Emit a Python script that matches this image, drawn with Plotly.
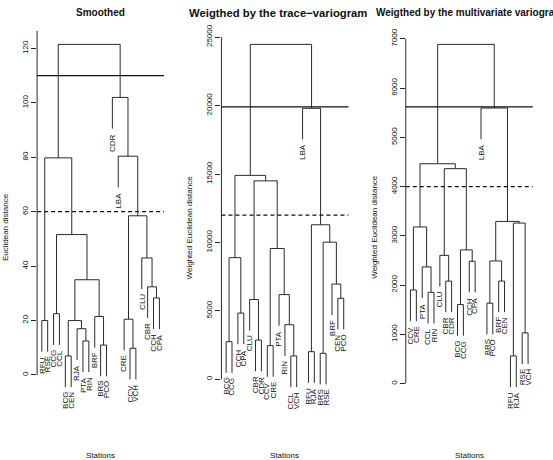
import plotly.graph_objects as go

W, H = 553, 460
FONT = "Liberation Sans, Arial, sans-serif"

titles = ["Smoothed",
          "Weigthed by the trace\u2212variogram",
          "Weigthed by the multivariate variogram"]
ytitles = ["Euclidean distance", "Weighted Euclidean distance", "Weighted Euclidean distance"]
xtitle = "Stations"

# Dendrogram merges: (left, right, height); integers refer to earlier merges
smoothed_merges = [
    ("BCG", "CEN", 7.0), ("CCV", "VCH", 9.8), ("BRS", "PCO", 11.0),
    ("PTA", "RIN", 12.5), ("RJA", 3, 17.0), ("RFU", "RSE", 20.0),
    (0, 4, 20.0), ("CRE", 1, 20.5), ("BRF", 2, 21.5), ("CCG", "CCL", 22.5),
    ("CCH", "CPA", 28.3), ("CBR", 10, 32.4), (6, 8, 35.0), ("CLU", 11, 43.0),
    (9, 12, 51.6), (7, 13, 58.5), (5, 14, 79.8), ("LBA", 15, 80.4),
    ("CDR", 17, 102.0), (16, 18, 121.5),
]
trace_merges = [
    ("CCL", "VCH", 1710), ("BRS", "RSE", 1900), ("RFU", "RJA", 2020),
    ("CCV", "CRE", 2460), ("BCG", "CCG", 2750), ("CBR", "CDR", 2870),
    ("RIN", 0, 3990), ("CCH", "CPA", 4840), ("CLU", 5, 5830),
    ("CEN", "PCO", 5920), ("PTA", 6, 6190), ("BRF", 9, 6960),
    (4, 7, 8890), (3, 10, 9560), (1, 11, 10020), (2, 14, 11290),
    (8, 13, 14500), (12, 16, 14900), ("LBA", 15, 19800), (17, 18, 24470),
]
multi_merges = [
    ("RFU", "RJA", 562), ("RSE", "VCH", 1030), ("BCG", "CCG", 1605),
    ("BRS", "PCO", 1633), ("CCL", "RIN", 1854), ("CCV", "CRE", 1901),
    ("CBR", "CDR", 2082), ("BRF", "CEN", 2082), ("PTA", 4, 2370),
    ("CCH", "CPA", 2484), (3, 7, 2490), ("CLU", 6, 2604), (2, 9, 2715),
    (5, 8, 3180), (0, 1, 3260), (10, 14, 3293), (11, 12, 4364),
    (13, 16, 4464), ("LBA", 15, 5596), (17, 18, 6888),
]
all_merges = [smoothed_merges, trace_merges, multi_merges]

solid_cuts = [110, 19900, 5620]
dashed_cuts = [60, 12000, 4000]

smoothed_ticks = [0, 20, 40, 60, 80, 100, 120]
trace_ticks = [0, 5000, 10000, 15000, 20000, 25000]
multi_ticks = [0, 1000, 2000, 3000, 4000, 5000, 6000, 7000]
all_ticks = [smoothed_ticks, trace_ticks, multi_ticks]
axis_line_top = [126.5, 25000, 7000]

# title styling per panel (font size, horizontal shift in px)
title_sizes = [10, 11.3, 10]
title_shift = [0, -7, 0]


def layout_tree(merges):
    order = []

    def walk(node):
        if isinstance(node, str):
            order.append(node)
        else:
            a, b, _ = merges[node]
            walk(a)
            walk(b)

    walk(len(merges) - 1)
    xpos = {name: i + 1 for i, name in enumerate(order)}
    hs = [m[2] for m in merges]
    hang = 0.1 * (max(hs) - min(hs))
    nodex = {}

    def xof(node):
        return xpos[node] if isinstance(node, str) else nodex[node]

    xs, ys, labels = [], [], []
    for i, (a, b, h) in enumerate(merges):
        xa, xb = xof(a), xof(b)
        nodex[i] = (xa + xb) / 2
        ya = merges[a][2] if isinstance(a, int) else h - hang
        yb = merges[b][2] if isinstance(b, int) else h - hang
        xs += [xa, xa, xb, xb, None]
        ys += [ya, h, h, yb, None]
        for node in (a, b):
            if isinstance(node, str):
                labels.append((node, xpos[node], h - hang))
    lo = min(hs) - hang
    hi = max(hs)
    ext = 0.04 * (hi - lo)
    return xs, ys, labels, [lo - ext, hi + ext], len(order)


fig = go.Figure()
annotations = []
shapes = []
PL, PR = 37.1, 164.1  # plot region within each panel, px
PT, PB = 25, 400
ydom = [(H - PB) / H, (H - PT) / H]

for p in range(3):
    xs, ys, labels, yrange, n = layout_tree(all_merges[p])
    sfx = "" if p == 0 else str(p + 1)
    left = p * W / 3
    fig.add_trace(go.Scatter(x=xs, y=ys, mode="lines",
                             line=dict(color="#2a2a2a", width=1),
                             xaxis="x" + sfx, yaxis="y" + sfx,
                             hoverinfo="skip", showlegend=False))
    fig.layout["xaxis" + sfx] = dict(domain=[(left + PL) / W, (left + PR) / W],
                                     range=[1 - 0.04 * (n - 1), n + 0.04 * (n - 1)],
                                     visible=False, anchor="y" + sfx)
    fig.layout["yaxis" + sfx] = dict(domain=ydom, range=yrange, anchor="x" + sfx,
                                     showgrid=False, zeroline=False, showline=False,
                                     tickmode="array", tickvals=all_ticks[p],
                                     ticktext=[str(t) for t in all_ticks[p]],
                                     ticks="outside", ticklen=5, tickwidth=1,
                                     tickcolor="#2a2a2a", tickangle=-90,
                                     tickfont=dict(size=8, color="#111", family=FONT))
    xr, yr = "x" + sfx, "y" + sfx
    shapes.append(dict(type="line", xref=xr + " domain", yref=yr, x0=0, x1=0,
                       y0=all_ticks[p][0], y1=axis_line_top[p],
                       line=dict(color="#2a2a2a", width=1)))
    shapes.append(dict(type="line", xref=xr + " domain", yref=yr, x0=0, x1=1,
                       y0=solid_cuts[p], y1=solid_cuts[p],
                       line=dict(color="#111", width=1.2)))
    shapes.append(dict(type="line", xref=xr + " domain", yref=yr, x0=0, x1=1,
                       y0=dashed_cuts[p], y1=dashed_cuts[p],
                       line=dict(color="#111", width=1.2, dash="4px,3px")))
    for name, lx, ly in labels:
        annotations.append(dict(text=name, x=lx, y=ly, xref=xr, yref=yr,
                                textangle=-90, xanchor="center", yanchor="top",
                                yshift=-3, showarrow=False,
                                font=dict(size=8, color="#111", family=FONT)))
    cx = (left + (PL + PR) / 2) / W
    annotations.append(dict(text="<b>" + titles[p] + "</b>",
                            x=cx + title_shift[p] / W, y=(H - 7) / H,
                            xref="paper", yref="paper", xanchor="center", yanchor="middle",
                            showarrow=False,
                            font=dict(size=title_sizes[p], color="#111", family=FONT)))
    annotations.append(dict(text=xtitle, x=cx, y=(H - 455) / H,
                            xref="paper", yref="paper", xanchor="center", yanchor="middle",
                            showarrow=False, font=dict(size=8, color="#111", family=FONT)))
    annotations.append(dict(text=ytitles[p], x=(left + 5) / W, y=(H - 224) / H,
                            xref="paper", yref="paper", xanchor="center", yanchor="middle",
                            textangle=-90, showarrow=False,
                            font=dict(size=8, color="#111", family=FONT)))

fig.update_layout(width=W, height=H, margin=dict(l=0, r=0, t=0, b=0),
                  paper_bgcolor="white", plot_bgcolor="white",
                  annotations=annotations, shapes=shapes,
                  font=dict(family=FONT, size=8, color="#111"))
fig.write_html("out.html", config={"displayModeBar": False},
               post_script="document.body.style.margin='0';document.body.style.padding='0';"
                           "document.documentElement.style.overflow='hidden';")
